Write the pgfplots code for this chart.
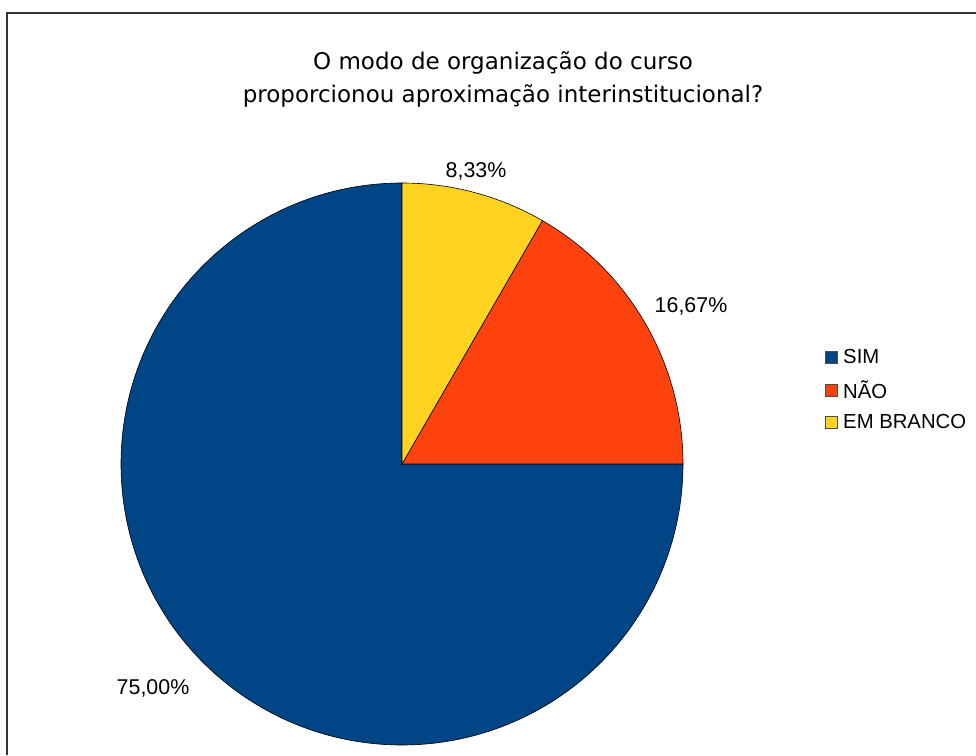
\documentclass[border=0pt]{standalone}
\usepackage{pgfplots}
\pgfplotsset{compat=1.18}
\usepackage{fontspec}
\setmainfont{Liberation Sans}
\newfontfamily\titlefont{DejaVu Sans}
\definecolor{csim}{HTML}{004586}
\definecolor{cnao}{HTML}{FF420E}
\definecolor{cbranco}{HTML}{FFD320}
% values (percent)
\def\vsim{75.00}
\def\vnao{16.67}
\def\vbranco{8.33}
\begin{document}
\begin{tikzpicture}
\path[use as bounding box] (0,0) rectangle (976pt,755pt);
\begin{axis}[x=1pt,y=1pt,xmin=0,xmax=976,ymin=0,ymax=755,
  hide axis,scale only axis,clip=false,at={(0,0)},anchor=south west]
% frame
\draw[color=black!80,line width=1.2pt] (axis cs:7,0) -- (axis cs:7,742) -- (axis cs:976,742);
% slices
\fill[csim,draw=black,line width=0.6pt] (axis cs:402,291) -- ++(90:281pt)
  arc[start angle=90, end angle={90+\vsim*3.6}, radius=281pt] -- cycle;
\fill[cnao,draw=black,line width=0.6pt] (axis cs:402,291) -- ++({90+\vsim*3.6}:281pt)
  arc[start angle={90+\vsim*3.6}, end angle={90+(\vsim+\vnao)*3.6}, radius=281pt] -- cycle;
\fill[cbranco,draw=black,line width=0.6pt] (axis cs:402,291) -- ++({90+(\vsim+\vnao)*3.6}:281pt)
  arc[start angle={90+(\vsim+\vnao)*3.6}, end angle={90+(\vsim+\vnao+\vbranco)*3.6}, radius=281pt] -- cycle;
% title
\node[align=center,font={\titlefont\fontsize{23}{33}\selectfont}] at (axis cs:503,676)
  {O modo de organização do curso\\proporcionou aproximação interinstitucional?};
% data labels
\node[font={\fontsize{21.4}{24}\selectfont}] at (axis cs:476,584) {8,33\%};
\node[font={\fontsize{21.4}{24}\selectfont}] at (axis cs:691,449) {16,67\%};
\node[font={\fontsize{21.4}{24}\selectfont}] at (axis cs:153,67) {75,00\%};
% legend
\fill[csim,draw=black!70,line width=0.7pt] (axis cs:825,392) rectangle (axis cs:837,404);
\fill[cnao,draw=black!70,line width=0.7pt] (axis cs:825,359) rectangle (axis cs:837,371);
\fill[cbranco,draw=black!70,line width=0.7pt] (axis cs:825,327) rectangle (axis cs:837,339);
\node[anchor=west,inner sep=0pt,font={\fontsize{20.3}{22}\selectfont}] at (axis cs:843,398) {SIM};
\node[anchor=west,inner sep=0pt,font={\fontsize{20.3}{22}\selectfont}] at (axis cs:843,365) {NÃO};
\node[anchor=west,inner sep=0pt,font={\fontsize{20.3}{22}\selectfont}] at (axis cs:843,333) {EM BRANCO};
\end{axis}
\end{tikzpicture}
\end{document}
